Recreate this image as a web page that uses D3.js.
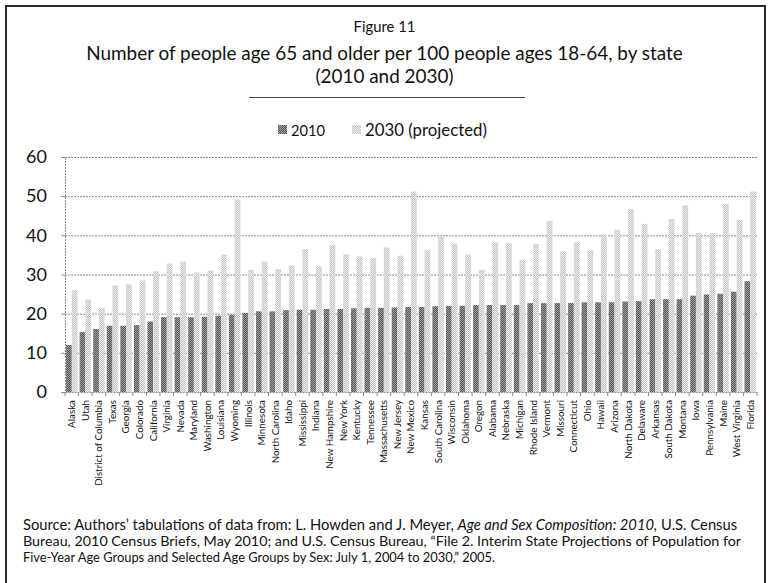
<!DOCTYPE html>
<html><head><meta charset="utf-8">
<script src="https://cdn.jsdelivr.net/npm/d3@7"></script>
<style>
html,body{margin:0;padding:0;background:#fff;}
svg{display:block;}
text{font-family:"Lato","Open Sans",sans-serif;fill:#111;}
</style></head>
<body>
<svg id="c" width="769" height="583"></svg>
<script>
const states = ["Alaska","Utah","District of Columbia","Texas","Georgia","Colorado","California","Virginia","Nevada","Maryland","Washington","Louisiana","Wyoming","Illinois","Minnesota","North Carolina","Idaho","Mississippi","Indiana","New Hampshire","New York","Kentucky","Tennessee","Massachusetts","New Jersey","New Mexico","Kansas","South Carolina","Wisconsin","Oklahoma","Oregon","Alabama","Nebraska","Michigan","Rhode Island","Vermont","Missouri","Connecticut","Ohio","Hawaii","Arizona","North Dakota","Delaware","Arkansas","South Dakota","Montana","Iowa","Pennsylvania","Maine","West Virginia","Florida"];
const values2010 = [12.0,15.3,16.1,16.9,16.9,17.1,18.0,19.1,19.1,19.1,19.2,19.5,19.7,20.2,20.6,20.6,20.9,21.0,21.0,21.2,21.2,21.4,21.5,21.5,21.6,21.7,21.7,21.9,22.0,22.0,22.2,22.2,22.2,22.2,22.7,22.7,22.7,22.7,22.9,22.9,22.9,23.1,23.2,23.7,23.7,23.7,24.6,24.9,25.1,25.6,28.3];
const values2030 = [26.0,23.6,21.4,27.2,27.5,28.5,30.8,32.8,33.3,30.5,31.0,35.1,49.1,31.2,33.3,31.4,32.3,36.5,32.1,37.6,35.1,34.6,34.2,36.9,34.8,51.2,36.3,39.7,37.9,35.1,31.2,38.2,38.0,33.8,37.8,43.7,35.9,38.2,36.1,40.2,41.4,46.7,42.9,36.5,44.2,47.7,40.6,40.6,48.0,44.0,51.2];
const seriesNames = ["2010","2030 (projected)"];
const yTicks = [0,10,20,30,40,50,60];
const figureLabel = "Figure 11";
const titleLines = ["Number of people age 65 and older per 100 people ages 18-64, by state","(2010 and 2030)"];
const sourceLine1 = ["Source: Authors’ tabulations of data from: L. Howden and J. Meyer, ","Age and Sex Composition: 2010,"," U.S. Census"];
const sourceLine2 = "Bureau, 2010 Census Briefs, May 2010; and U.S. Census Bureau, “File 2. Interim State Projections of Population for";
const sourceLine3 = "Five-Year Age Groups and Selected Age Groups by Sex: July 1, 2004 to 2030,” 2005.";

const svg = d3.select("#c");
const W = 769, H = 583;
const margin = {left:65, right:12, top:157, bottom:191};
const plotW = W - margin.left - margin.right;
const plotH = H - margin.top - margin.bottom;

// patterns (dithered look)
const defs = svg.append("defs");
function checker(id, a, b){
  const p = defs.append("pattern").attr("id",id).attr("width",2).attr("height",2).attr("patternUnits","userSpaceOnUse");
  p.append("rect").attr("width",2).attr("height",2).attr("fill",a);
  p.append("rect").attr("width",1).attr("height",1).attr("fill",b);
  p.append("rect").attr("x",1).attr("y",1).attr("width",1).attr("height",1).attr("fill",b);
}
checker("p2010","#555","#a0a0a0");
checker("p2030","#c2c2c2","#f0f0f0");
const fills = ["url(#p2010)","url(#p2030)"];

// frame
svg.append("rect").attr("x",6).attr("y",6).attr("width",759).attr("height",620)
  .attr("fill","none").attr("stroke","#2a2a2a").attr("stroke-width",2);

function fit(sel, target){
  const len = sel.node().getComputedTextLength();
  const fs = parseFloat(sel.attr("font-size"));
  sel.attr("font-size", fs*target/len);
  return fs*target/len;
}

// titles
const fig = svg.append("text").attr("x",384.5).attr("y",32).attr("text-anchor","middle").attr("font-size",15).text(figureLabel);
fit(fig,62);
const t1 = svg.append("text").attr("x",384.5).attr("y",60).attr("text-anchor","middle").attr("font-size",18).text(titleLines[0]);
const tfs = fit(t1,597);
svg.append("text").attr("x",384.5).attr("y",83).attr("text-anchor","middle").attr("font-size",tfs).text(titleLines[1]);
svg.append("line").attr("x1",249).attr("x2",525).attr("y1",97.5).attr("y2",97.5).attr("stroke","#444").attr("stroke-width",1);

// legend
const legX = [278, 352];
seriesNames.forEach((s,i)=>{
  svg.append("rect").attr("x",legX[i]).attr("y",125).attr("width",9).attr("height",9).attr("fill",fills[i]);
  const lt = svg.append("text").attr("x",legX[i]+13).attr("y",135.5).attr("font-size",16).text(s);
  fit(lt, i===0 ? 34 : 122);
});

// scales
const x = d3.scaleBand().domain(states).range([margin.left, margin.left+plotW]).paddingInner(0).paddingOuter(0);
const xs = d3.scaleBand().domain(seriesNames).range([0, x.bandwidth()]).paddingInner(0).paddingOuter(0.18);
const y = d3.scaleLinear().domain([0,60]).range([margin.top+plotH, margin.top]);

// gridlines
svg.append("g").selectAll("line").data(yTicks.filter(d=>d>0)).join("line")
  .attr("x1",margin.left).attr("x2",margin.left+plotW)
  .attr("y1",d=>y(d)+0.5).attr("y2",d=>y(d)+0.5)
  .attr("stroke","#8a8a8a").attr("stroke-width",1).attr("stroke-dasharray","2,1");

// y axis
const ya = svg.append("g").attr("transform",`translate(${margin.left},0)`)
  .call(d3.axisLeft(y).tickValues(yTicks).tickSize(4).tickPadding(14));
ya.select(".domain").attr("stroke","#8a8a8a").attr("stroke-dasharray","2,1");
ya.selectAll(".tick line").attr("stroke","#8a8a8a");
ya.selectAll(".tick text").attr("font-size",18).attr("font-family","Lato, sans-serif").attr("fill","#111");

// bars
const g = svg.append("g");
states.forEach((st,i)=>{
  const vals = [values2010[i], values2030[i]];
  g.selectAll(null).data(vals).enter().append("rect")
    .attr("x",(d,j)=>x(st)+xs(seriesNames[j]))
    .attr("width",xs.bandwidth())
    .attr("y",d=>y(d))
    .attr("height",d=>y(0)-y(d))
    .attr("fill",(d,j)=>fills[j]);
});

// x axis
const xa = svg.append("g").attr("transform",`translate(0,${y(0)})`)
  .call(d3.axisBottom(x).tickSize(0).tickPadding(0));
xa.select(".domain").attr("stroke","#8a8a8a").attr("stroke-dasharray","2,1");
xa.selectAll(".tick text")
  .attr("transform","rotate(-90)")
  .attr("text-anchor","end")
  .attr("dx","-8")
  .attr("dy","0.35em")
  .attr("x",0).attr("y",0)
  .attr("font-size",11)
  .attr("font-family","Lato, sans-serif")
  .attr("fill","#111");
{
  const dc = xa.selectAll(".tick text").filter(d=>d==="District of Columbia");
  const len = dc.node().getComputedTextLength();
  xa.selectAll(".tick text").attr("font-size", 11*86/len);
}
// category separator ticks
svg.append("g").selectAll("line").data(states).join("line")
  .attr("x1",d=>x(d)).attr("x2",d=>x(d))
  .attr("y1",y(0)).attr("y2",y(0)+4).attr("stroke","#8a8a8a");
svg.append("line").attr("x1",margin.left+plotW).attr("x2",margin.left+plotW).attr("y1",y(0)).attr("y2",y(0)+4).attr("stroke","#8a8a8a");

// source
const sfs0 = 12;
const parts = sourceLine1.map((s,i)=>svg.append("text").attr("y",530).attr("font-size",sfs0)
  .attr("font-style", i===1 ? "italic" : "normal").attr("xml:space","preserve").style("white-space","pre").text(s));
const total = parts.reduce((a,p)=>a+p.node().getComputedTextLength(),0);
const sfs = sfs0*715/total;
let cx = 23;
parts.forEach(p=>{ p.attr("font-size",sfs); p.attr("x",cx); cx += p.node().getComputedTextLength(); });
const s2 = svg.append("text").attr("x",23).attr("y",546).attr("font-size",sfs).text(sourceLine2);
fit(s2,718);
const s3 = svg.append("text").attr("x",23).attr("y",562).attr("font-size",sfs).text(sourceLine3);
fit(s3,472);
</script>
</body></html>
